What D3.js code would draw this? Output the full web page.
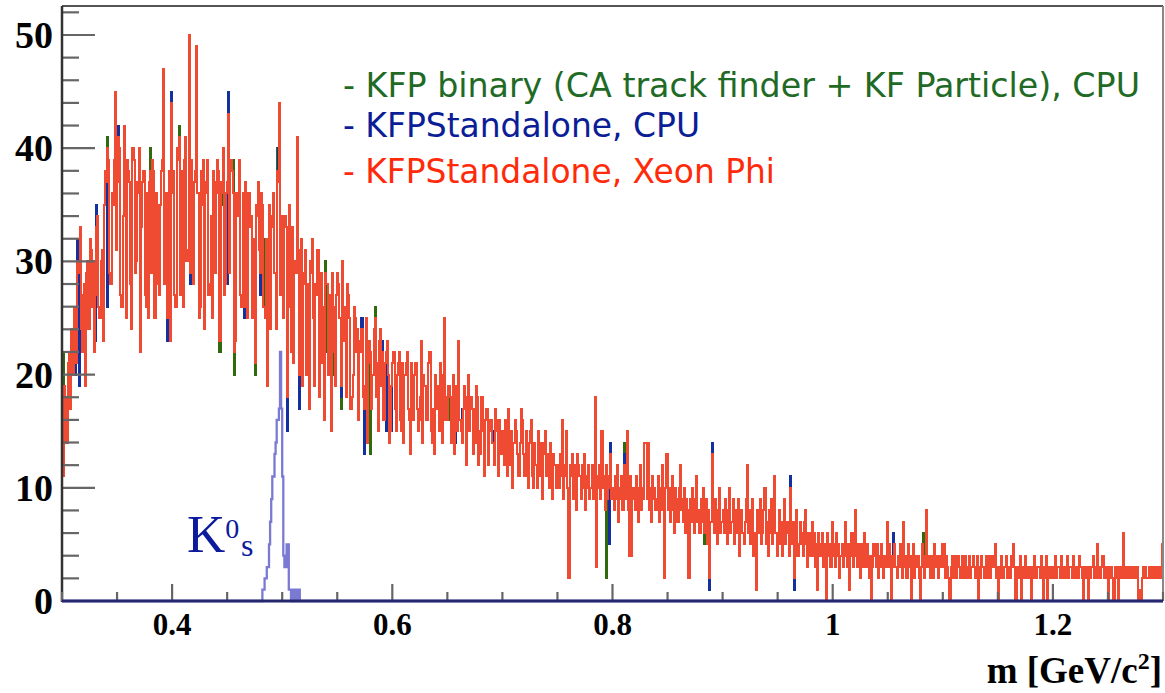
<!DOCTYPE html>
<html>
<head>
<meta charset="utf-8">
<script src="https://cdn.jsdelivr.net/npm/d3@7"></script>
<style>
  body { margin: 0; background: #fff; }
  svg { display: block; }
</style>
</head>
<body>
<div id="chart"></div>
<script>
// histogram: 1000 bins, 1 MeV each, from 0.3 to 1.3 GeV/c2
var xMin = 0.3, xMax = 1.3, nBins = 1000;

// KFPStandalone, Xeon Phi (red, drawn on top)
var redCounts = [
  16,11,19,18,14,21,22,17,24,23, 20,26,25,21,30,29,33,24,22,27, 28,19,29,30,24,32,31,26,30,22, 27,33,34,26,25,30,31,23,35,38, 37,40,39,29,28,36,35,39,45,31,
  37,41,40,27,26,34,42,38,25,39, 38,37,28,24,40,39,29,30,37,36, 40,22,33,37,38,27,26,36,25,37, 38,29,39,38,25,36,35,28,27,35, 38,39,47,28,36,25,26,38,23,44,
  36,38,27,26,40,39,41,27,37,38, 26,39,41,30,31,50,29,39,37,28, 37,38,49,36,25,26,38,35,39,24, 36,37,39,27,28,34,25,38,37,29, 36,39,38,23,37,36,40,27,28,36,
  37,43,29,39,38,36,22,23,36,35, 34,39,27,26,36,26,37,36,25,35, 36,33,34,25,32,21,35,34,37,31, 29,36,35,26,25,32,19,30,35,24, 33,34,36,29,24,38,37,44,27,34,
  32,25,34,33,18,31,35,26,22,33, 21,30,29,41,31,20,26,32,19,29, 28,31,20,28,17,30,29,32,25,19, 28,27,31,18,27,29,21,26,16,29, 28,28,20,27,15,29,22,26,19,27,
  29,28,25,19,30,24,23,26,18,28, 27,25,17,18,20,26,25,22,24,16, 23,22,24,18,17,19,25,14,21,23, 22,17,20,24,25,18,21,15,23,24, 19,22,16,21,22,23,20,14,15,19,
  21,22,17,15,20,21,22,16,15,21, 14,20,21,22,17,16,13,21,20,16, 20,21,17,15,16,18,23,14,20,19, 19,16,21,22,22,15,14,17,13,20, 17,19,15,21,20,14,20,25,16,18,
  16,19,18,14,17,20,13,18,19,15, 23,16,15,14,17,19,18,12,17,20, 15,18,17,13,17,14,19,18,12,15, 13,18,15,11,16,17,17,12,15,16, 16,14,12,17,16,15,11,16,14,13,
  15,12,16,15,11,17,14,12,15,10, 14,16,15,13,11,11,14,17,16,13, 11,15,13,10,14,15,16,11,10,14, 12,10,15,14,11,14,9,13,14,15, 11,13,10,14,13,9,13,12,12,10,
  12,10,13,11,16,9,12,11,15,10, 2,12,11,13,9,11,12,8,13,12, 11,9,12,10,13,8,11,10,12,9, 10,12,9,11,18,3,11,10,12,9, 15,10,11,8,12,9,11,10,13,9,
  10,8,11,9,12,7,10,9,11,8, 12,9,10,15,8,4,11,4,9,10, 8,11,9,7,10,12,8,10,9,14, 14,9,14,8,10,7,11,9,10,8, 9,11,7,10,8,12,9,2,10,13,
  8,10,7,9,11,8,6,10,9,7, 10,12,8,9,7,10,6,9,8,2, 9,7,10,8,6,9,11,7,8,6, 9,7,10,6,8,9,5,8,2,7, 13,8,6,9,7,5,8,10,6,7,
  8,6,9,7,5,8,10,6,7,9, 5,7,8,6,9,4,7,8,6,5, 7,9,12,6,8,5,7,9,4,6, 1,8,6,7,9,5,6,8,10,5, 7,4,8,6,9,5,7,11,6,4,
  6,8,5,7,4,6,9,5,7,6, 4,10,6,5,7,2,6,8,4,5, 7,5,6,4,7,8,5,3,6,4, 5,7,4,6,3,5,1,6,4,5, 6,3,5,4,0,6,4,5,3,7,
  4,5,3,6,4,5,2,4,5,3, 5,7,4,3,5,1,4,6,3,4, 8,4,3,5,4,2,5,3,6,4, 3,5,4,2,4,0,3,5,4,3, 5,2,4,3,5,4,2,4,3,7,
  3,5,4,0,3,4,5,3,2,4, 3,5,4,2,7,3,4,2,5,3, 4,0,3,5,2,4,3,4,2,0, 3,5,4,2,4,8,3,4,2,3, 4,2,5,3,4,3,2,4,3,5,
  3,5,2,4,3,2,0,3,4,2, 3,4,2,3,4,3,2,4,3,2, 4,3,2,3,4,2,3,4,3,2, 3,4,0,3,2,4,3,2,3,4, 2,3,4,2,3,4,3,5,2,3,
  0,3,2,4,3,2,3,4,2,3, 3,2,4,3,5,3,0,3,2,3, 4,0,3,2,3,4,2,3,3,2, 0,3,2,4,3,2,3,3,2,4, 3,0,3,2,4,0,3,2,3,3,
  2,3,4,2,3,3,2,4,3,2, 3,2,3,4,2,3,3,2,4,3, 2,3,3,2,4,3,2,0,3,2, 3,2,0,3,2,3,4,2,3,2, 5,2,3,2,3,4,2,3,2,3,
  0,3,2,3,2,0,3,2,3,0, 2,3,2,3,6,2,3,2,3,2, 3,2,3,2,3,2,3,0,1,0, 0,2,3,2,3,2,2,3,2,3, 2,3,2,2,3,2,3,2,3,5
];

// KFPStandalone, CPU: bins where it differs from the Xeon Phi run [bin, count]
var blueDiff = [
  [12,20],[14,32],[15,19],[30,23],[31,35],[35,26],[41,26],[51,42],[62,35],[70,40],
  [80,29],[85,36],[95,23],[99,45],[116,28],[128,38],[150,28],[151,45],[165,25],[180,27],
  [196,40],[204,15],[215,17],[253,18],[272,25],[274,13],[291,23],[293,18],[294,15],[299,15],
  [357,14],[363,17],[392,15],[486,11],[497,5],[498,14],[509,11],[510,13],[588,1],[590,14],
  [661,11],[663,6],[665,1],[755,6]
];

// KFP binary (CA track finder + KF Particle), CPU [bin, count]
var greenDiff = [
  [1,22],[41,41],[54,27],[80,40],[106,42],[119,29],[140,36],[143,22],[145,35],[155,39],
  [156,20],[175,20],[183,32],[195,40],[239,30],[241,22],[247,20],[253,17],[276,21],[277,16],
  [280,13],[284,26],[295,21],[296,16],[321,20],[352,16],[477,10],[494,2],[510,14],[582,8],
  [583,5],[782,6]
];

// K0s signal (thin blue), counts starting at bin 181
var k0sStart = 181;
var k0sCounts = [0,1,1,2,2,3,3,5,7,9,11,11,13,14,16,16,17,22,17,11,4,3,3,5,5,1,1,0,1,1,0,1,1,0,1,0];

var yTicksMajor = [0, 10, 20, 30, 40, 50];
var xTicksMajor = [0.4, 0.6, 0.8, 1.0, 1.2];
var xTickLabels = ["0.4", "0.6", "0.8", "1", "1.2"];

var legendLines = [
  "- KFP binary (CA track finder + KF Particle), CPU",
  "- KFPStandalone, CPU",
  "- KFPStandalone, Xeon Phi"
];

// ---------------------------------------------------------------
var svgWidth = 1165, svgHeight = 693;
var margin = {left: 62, right: 2, top: 6, bottom: 92};

var svg = d3.select("#chart").append("svg")
  .attr("width", svgWidth)
  .attr("height", svgHeight);

var xScale = d3.scaleLinear().domain([xMin, xMax]).range([margin.left, svgWidth - margin.right]);
var yScale = d3.scaleLinear().domain([0, 52.56]).range([svgHeight - margin.bottom, margin.top]);

var binW = (xMax - xMin) / nBins;

function withDiff(base, diff) {
  var out = base.slice();
  diff.forEach(function(d) { out[d[0]] = d[1]; });
  return out;
}
var blueCounts = withDiff(redCounts, blueDiff);
var greenCounts = withDiff(redCounts, greenDiff);

var k0sFull = new Array(nBins).fill(0);
k0sCounts.forEach(function(c, i) { k0sFull[k0sStart + i] = c; });

// step outline like ROOT's default histogram draw
function histPoints(counts) {
  var pts = [[xMin, 0]];
  counts.forEach(function(c, i) { pts.push([xMin + i * binW, c]); });
  pts.push([xMax, counts[counts.length - 1]]);
  pts.push([xMax, 0]);
  return pts;
}
var stepLine = d3.line()
  .x(function(d) { return xScale(d[0]); })
  .y(function(d) { return yScale(d[1]); })
  .curve(d3.curveStepAfter);

var plot = svg.append("g");
var histWidth = 2.0;

plot.append("path").attr("d", stepLine(histPoints(greenCounts)))
  .attr("fill", "none").attr("stroke", "#2f6a0c").attr("stroke-width", histWidth)
  .attr("shape-rendering", "crispEdges");
plot.append("path").attr("d", stepLine(histPoints(blueCounts)))
  .attr("fill", "none").attr("stroke", "#14309e").attr("stroke-width", histWidth)
  .attr("shape-rendering", "crispEdges");
plot.append("path").attr("d", stepLine(histPoints(redCounts)))
  .attr("fill", "none").attr("stroke", "#ef4a32").attr("stroke-width", histWidth)
  .attr("shape-rendering", "crispEdges");

plot.append("path").attr("d", stepLine(histPoints(k0sFull)))
  .attr("fill", "none").attr("stroke", "#4646c2").attr("stroke-width", 2.3)
  .attr("stroke-opacity", 0.72);

// frame
var x0 = xScale(xMin), x1 = xScale(xMax), y0 = yScale(0), yTop = margin.top;
svg.append("line").attr("x1", x0).attr("x2", x1).attr("y1", yTop).attr("y2", yTop)
  .attr("stroke", "#555").attr("stroke-width", 2);
svg.append("line").attr("x1", x1).attr("x2", x1).attr("y1", yTop).attr("y2", y0)
  .attr("stroke", "#888").attr("stroke-width", 2);

// y axis ticks
var yMinor = d3.range(0, 53, 2);
svg.selectAll(".ytick").data(yMinor).enter().append("line")
  .attr("x1", x0)
  .attr("x2", function(d) { return d % 10 === 0 ? x0 + 33 : x0 + 17; })
  .attr("y1", function(d) { return yScale(d); })
  .attr("y2", function(d) { return yScale(d); })
  .attr("stroke", "#666").attr("stroke-width", 2.2);
svg.append("line").attr("x1", x0).attr("x2", x0).attr("y1", yTop).attr("y2", y0 + 1)
  .attr("stroke", "#333").attr("stroke-width", 2.5);
svg.selectAll(".ylab").data(yTicksMajor).enter().append("text")
  .attr("x", 53)
  .attr("y", function(d) { return yScale(d) + 13; })
  .attr("text-anchor", "end")
  .attr("font-family", "'Liberation Serif', serif")
  .attr("font-weight", "bold")
  .attr("font-size", 38)
  .attr("fill", "#000")
  .text(function(d) { return d; });

// x axis ticks
var xMinor = d3.range(6, 27).map(function(i) { return i * 0.05; });
svg.selectAll(".xtick").data(xMinor).enter().append("line")
  .attr("x1", function(d) { return xScale(d); })
  .attr("x2", function(d) { return xScale(d); })
  .attr("y1", y0)
  .attr("y2", function(d) { return Math.round(d * 100) % 20 === 0 ? y0 - 17 : y0 - 9; })
  .attr("stroke", "#666").attr("stroke-width", 2.2);
svg.append("line").attr("x1", x0).attr("x2", x1).attr("y1", y0).attr("y2", y0)
  .attr("stroke", "#26266e").attr("stroke-width", 3);
svg.selectAll(".xlab").data(xTicksMajor).enter().append("text")
  .attr("x", function(d) { return xScale(d); })
  .attr("y", 635)
  .attr("text-anchor", "middle")
  .attr("font-family", "'Liberation Serif', serif")
  .attr("font-weight", "bold")
  .attr("font-size", 31)
  .attr("fill", "#000")
  .text(function(d, i) { return xTickLabels[i]; });

// x axis title
var title = svg.append("text")
  .attr("x", 1162).attr("y", 683)
  .attr("text-anchor", "end")
  .attr("font-family", "'Liberation Serif', serif")
  .attr("font-weight", "bold")
  .attr("font-size", 37)
  .attr("fill", "#000");
title.append("tspan").text("m [GeV/c");
title.append("tspan").attr("font-size", 24).attr("dy", -14).text("2");
title.append("tspan").attr("dy", 14).text("]");

// K0s label
var k0s = svg.append("text")
  .attr("x", 187).attr("y", 552)
  .attr("font-family", "'Liberation Serif', serif")
  .attr("font-size", 53)
  .attr("fill", "#0c1a9c");
k0s.append("tspan").text("K");
k0s.append("tspan").attr("font-size", 28).attr("dy", -14).text("0");
k0s.append("tspan").attr("font-size", 32).attr("x", 241).attr("dy", 18).text("s");

// legend text
var legendColors = ["#1f6b26", "#0b1e96", "#ff2a0a"];
var legendY = [97, 137, 183];
var legendW = [797, 357, 432];
svg.selectAll(".leg").data(legendLines).enter().append("text")
  .attr("x", 343)
  .attr("y", function(d, i) { return legendY[i]; })
  .attr("font-family", "'DejaVu Sans', sans-serif")
  .attr("font-size", 34)
  .attr("fill", function(d, i) { return legendColors[i]; })
  .attr("textLength", function(d, i) { return legendW[i]; })
  .attr("lengthAdjust", "spacingAndGlyphs")
  .text(function(d) { return d; });
</script>
</body>
</html>
